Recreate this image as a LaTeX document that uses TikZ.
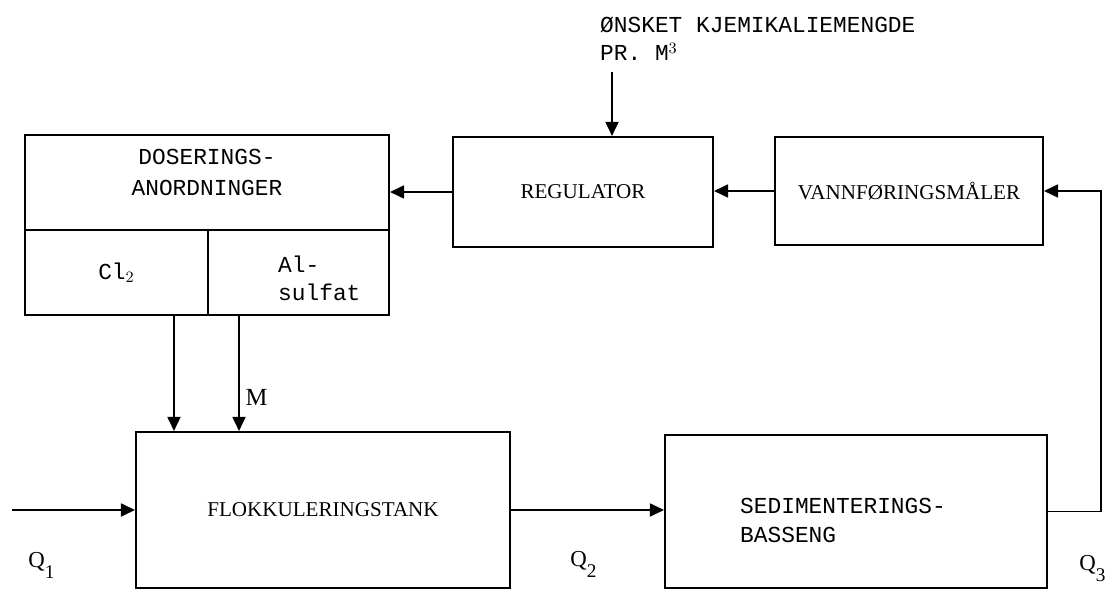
\documentclass[tikz,border=0pt]{standalone}
\usepackage{fontspec}
\setmainfont{Liberation Serif}
\setmonofont{Liberation Mono}
\usetikzlibrary{arrows.meta}
\usetikzlibrary{positioning}
\tikzset{blk/.style = {draw, line width=1.2pt, inner sep=0pt},
         flow/.style = {line width=1pt, -{Triangle[length=2.8mm, width=2.6mm]}},
         tt/.style = {font=\fontsize{13}{16}\selectfont\ttfamily},
         rm/.style = {font=\fontsize{12}{14}\selectfont},
         qlab/.style = {font=\fontsize{13}{15}\selectfont, anchor=base west, inner sep=0pt}}
\newcommand{\qsub}[2]{#1\raisebox{-6pt}{\fontsize{11}{11}\selectfont #2}}

\begin{document}
\begin{tikzpicture}[x=0.02cm, y=-0.02cm]
    \useasboundingbox (0, 0) rectangle (1107, 590);

    \node [blk, tt, align=center, minimum width=7.28cm, minimum height=1.9cm] (dos) at (207, 182.5) {DOSERINGS-\\[2pt]ANORDNINGER\\[-4.5pt]};
    \node [blk, tt, minimum width=3.66cm, minimum height=1.7cm] (cl) at (116.5, 272.5) {Cl$_2$};
    \node [blk, minimum width=3.62cm, minimum height=1.7cm] (al) at (298.5, 272.5) {};
    \node [tt, anchor=west, align=left] (altxt) at (272, 278) {Al-\\sulfat};

    \node [blk, rm, minimum width=5.2cm, minimum height=2.2cm] (reg) at (583, 192) {REGULATOR};
    \node [blk, rm, minimum width=5.36cm, minimum height=2.16cm] (van) at (909, 191) {VANNFØRINGSMÅLER};
    \node [blk, rm, minimum width=7.48cm, minimum height=3.12cm] (flo) at (323, 510) {FLOKKULERINGSTANK};
    \node [blk, minimum width=7.64cm, minimum height=3.06cm] (sed) at (856, 511.5) {};
    \node [tt, anchor=west, align=left] (sedtxt) at (734, 520) {SEDIMENTERINGS-\\[0.5pt]BASSENG};

    \node [tt, anchor=north west, align=left] (want) at (594, 11) {ØNSKET KJEMIKALIEMENGDE\\PR. M$^3$};
    \coordinate (set) at (612, 72);
    \coordinate (inn) at (12, 510);

    \draw [flow] (set) -- (set |- reg.north);
    \draw [flow] (reg.west) -- (reg.west -| dos.east);
    \draw [flow] (van.west) -- (van.west -| reg.east);
    \draw [flow] ([xshift=1.15cm]cl.south) -- ([xshift=1.15cm]cl.south |- flo.north);
    \draw [flow] ([xshift=-1.19cm]al.south) -- ([xshift=-1.19cm]al.south |- flo.north) node [pos=0.71, right, font=\fontsize{14}{16}\selectfont] {M};
    \draw [flow] (inn) -- (flo.west);
    \draw [flow] (flo.east) -- (flo.east -| sed.west);
    \draw [flow] (sed.east) -- ++(1.06cm, 0) |- (van.east);

    \node [qlab] (q1) at (28, 568) {\qsub{Q}{1}};
    \node [qlab] (q2) at (570, 567) {\qsub{Q}{2}};
    \node [qlab] (q3) at (1079, 571) {\qsub{Q}{3}};
  \end{tikzpicture}
\end{document}
